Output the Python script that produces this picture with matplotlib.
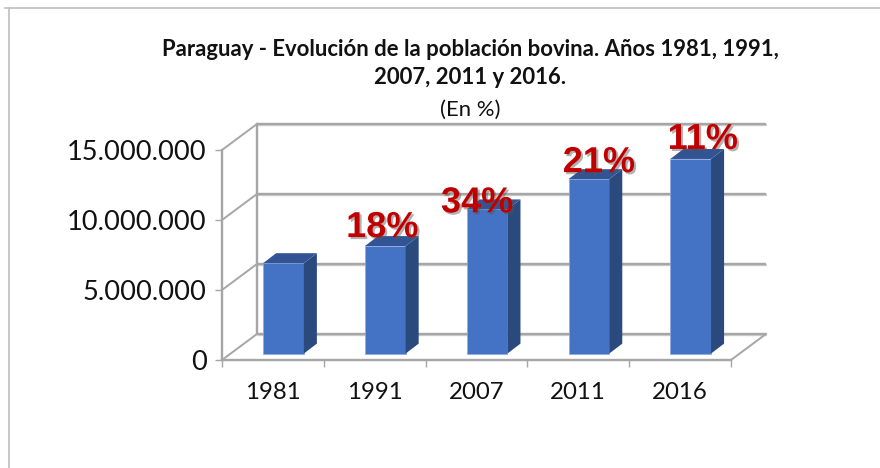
import matplotlib
matplotlib.use('Agg')
import matplotlib.pyplot as plt
import matplotlib.patheffects as pe
from matplotlib.lines import Line2D
from matplotlib.patches import Polygon
from matplotlib.ticker import FuncFormatter

years = ['1981', '1991', '2007', '2011', '2016']
cattle = [6460000, 7680000, 10300000, 12460000, 13900000]
growth = ['', '18%', '34%', '21%', '11%']
y_ticks = [0, 5000000, 10000000, 15000000]

# fake 3d box, offsets in data units
WALL_DX = 0.344
WALL_DY = 1860000
BAR_DX = 0.128
BAR_DY = 710000
BAR_SHIFT = 0.104
BAR_BASE = 460000
BAR_W = 0.40

GRID = '#A6A6A6'
FRONT = '#4472C4'
TOP = '#325494'
SIDE = '#2A4A7E'
RED = '#C00000'
W, H = 880, 468

plt.rcParams['font.family'] = ['Lato', 'DejaVu Sans']

fig = plt.figure(figsize=(W / 100, H / 100), dpi=100)
ax = fig.add_axes([222 / W, (H - 360) / H, 509 / W, 210 / H])
ax.set_xlim(-0.5, 4.5)
ax.set_ylim(0, 15000000)
ax.patch.set_visible(False)

shadow = [pe.SimpleLineShadow(offset=(0.5, -1), shadow_color='#888888', alpha=0.4), pe.Normal()]

# back wall and side wall
for v in y_ticks:
    ax.plot([-0.5 + WALL_DX, 4.5 + WALL_DX], [v + WALL_DY, v + WALL_DY], color=GRID, lw=1.7,
            clip_on=False, zorder=1, path_effects=shadow, solid_capstyle='butt')
    ax.plot([-0.5, -0.5 + WALL_DX], [v, v + WALL_DY], color=GRID, lw=1.4, clip_on=False, zorder=1)
ax.plot([-0.5 + WALL_DX, -0.5 + WALL_DX], [WALL_DY, 15000000 + WALL_DY], color=GRID, lw=1.7,
        clip_on=False, zorder=1)
ax.plot([4.5, 4.5 + WALL_DX], [0, WALL_DY], color=GRID, lw=1.4, clip_on=False, zorder=1)

# bars
for i, v in enumerate(cattle):
    x0 = i + BAR_SHIFT - BAR_W / 2
    x1 = x0 + BAR_W
    y0 = BAR_BASE
    y1 = BAR_BASE + v
    ax.bar(x0, v, width=BAR_W, bottom=y0, align='edge', color=FRONT, edgecolor='#8FAADC',
           linewidth=0.5, zorder=3, clip_on=False)
    ax.add_patch(Polygon([(x1, y0), (x1 + BAR_DX, y0 + BAR_DY), (x1 + BAR_DX, y1 + BAR_DY), (x1, y1)],
                         facecolor=SIDE, edgecolor='none', zorder=3, clip_on=False))
    ax.add_patch(Polygon([(x0, y1), (x1, y1), (x1 + BAR_DX, y1 + BAR_DY), (x0 + BAR_DX, y1 + BAR_DY)],
                         facecolor=TOP, edgecolor='none', zorder=3, clip_on=False))

# percentage labels, offset from the bar top in pixels
label_dx = [0, -3, -10, 10, 12]
label_dy = [0, 9, -3, 7, 10]
for i, txt in enumerate(growth):
    if txt:
        ax.annotate(txt, (i + BAR_SHIFT, BAR_BASE + cattle[i]), xytext=(label_dx[i] * 0.72, label_dy[i] * 0.72),
                    textcoords='offset points', ha='center', va='baseline', color=RED,
                    fontsize=26, fontweight='bold', family=['Liberation Sans', 'DejaVu Sans'], zorder=5,
                    path_effects=[pe.withSimplePatchShadow(offset=(1.5, -1.5), shadow_rgbFace='#555555', alpha=0.45)])

for s in ['top', 'right']:
    ax.spines[s].set_visible(False)
for s in ['left', 'bottom']:
    ax.spines[s].set_color(GRID)
    ax.spines[s].set_linewidth(1.7)

ax.set_yticks(y_ticks)
ax.yaxis.set_major_formatter(FuncFormatter(lambda v, p: f'{int(v):,}'.replace(',', '.')))
ax.set_xticks([i - 0.5 for i in range(len(years) + 1)])
ax.set_xticklabels([])
ax.set_xticks(range(len(years)), minor=True)
ax.set_xticklabels(years, minor=True)
ax.tick_params(axis='x', which='major', length=5, width=1, color=GRID)
ax.tick_params(axis='x', which='minor', length=0, labelsize=17.3, pad=16, labelcolor='#111111')
ax.tick_params(axis='y', length=5, width=1, color=GRID, labelsize=19.6, pad=6, labelcolor='#111111')

fig.text(470 / W, 1 - 50 / H, 'Paraguay - Evolución de la población bovina. Años 1981, 1991,',
         ha='center', va='center', fontsize=15.9, fontweight='bold', color='#111111')
fig.text(470 / W, 1 - 78 / H, '2007, 2011 y 2016.', ha='center', va='center', fontsize=15.9,
         fontweight='bold', color='#111111')
fig.text(470 / W, 1 - 110 / H, '(En %)', ha='center', va='center', fontsize=15.9, color='#111111')

# chart frame, only top and left show up
fig.add_artist(Line2D([5 / W, 1], [1 - 8 / H, 1 - 8 / H], color='#BFBFBF', lw=1.2))
fig.add_artist(Line2D([8.5 / W, 8.5 / W], [0, 1 - 8 / H], color='#BFBFBF', lw=1.2))

fig.savefig('out.png', dpi=100)
